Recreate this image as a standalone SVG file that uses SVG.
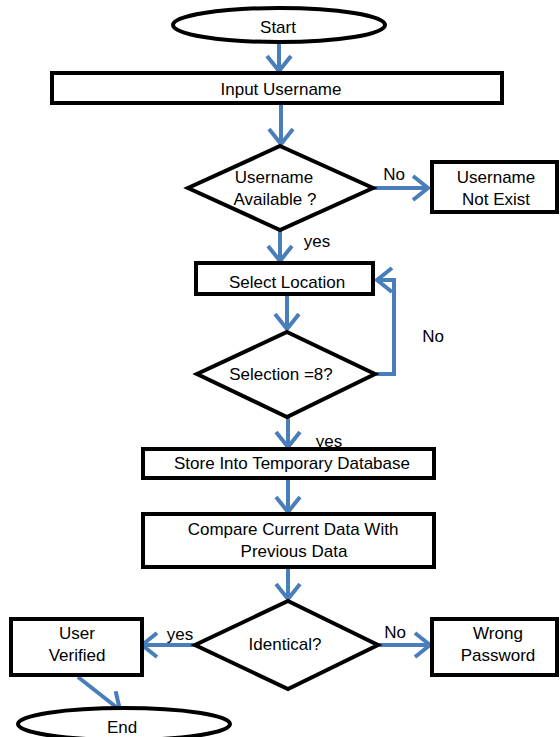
<svg xmlns="http://www.w3.org/2000/svg" width="560" height="737" viewBox="0 0 560 737">
  <style>
    .shape { fill: #ffffff; stroke: #000000; stroke-width: 4; stroke-linejoin: miter; }
    .flow { fill: none; stroke: #4a7ebb; stroke-width: 4; marker-end: url(#chevron); }
    text { font-family: "Liberation Sans", Arial, sans-serif; font-size: 17px; fill: #000000; text-anchor: middle; }
  </style>
  <defs>
    <marker id="chevron" markerUnits="userSpaceOnUse" markerWidth="22" markerHeight="30" viewBox="0 0 22 30" refX="17" refY="15" orient="auto">
      <path d="M2,3 L17,15 L2,27" fill="none" stroke="#4a7ebb" stroke-width="4"/>
    </marker>
  </defs>
  <rect width="560" height="737" fill="#ffffff"/>

  <!-- connectors -->
  <g id="connectors">
    <path class="flow" d="M279,43 L279,71"/>
    <path class="flow" d="M281,104 L281,144"/>
    <path class="flow" d="M373,188 L428,188"/>
    <path class="flow" d="M280,230 L280,261"/>
    <path class="flow" d="M287,295 L287,329"/>
    <path class="flow" d="M376,374 L394,374 L394,280 L377,280"/>
    <path class="flow" d="M288,417 L288,447"/>
    <path class="flow" d="M288,479 L288,512"/>
    <path class="flow" d="M288,568 L288,599"/>
    <path class="flow" d="M195,645 L142,645"/>
    <path class="flow" d="M378,645 L430,645"/>
    <path class="flow" d="M78,677 L120,710"/>
    <text x="394" y="180">No</text>
    <text x="317" y="247">yes</text>
    <text x="433" y="342">No</text>
    <text x="329" y="447">yes</text>
    <text x="180" y="640">yes</text>
    <text x="395" y="638">No</text>
  </g>

  <g id="start">
    <ellipse class="shape" cx="279" cy="25" rx="106" ry="17"/>
    <text x="278" y="33">Start</text>
  </g>

  <g id="input-username">
    <rect class="shape" x="52" y="73" width="450" height="30"/>
    <text x="281" y="95">Input Username</text>
  </g>

  <g id="username-available">
    <polygon class="shape" points="280,146 373,188 280,230 188,188"/>
    <text x="274" y="183">Username</text>
    <text x="275" y="205">Available ?</text>
  </g>

  <g id="username-not-exist">
    <rect class="shape" x="432" y="162" width="125" height="50"/>
    <text x="496" y="183">Username</text>
    <text x="496" y="205">Not Exist</text>
  </g>

  <g id="select-location">
    <rect class="shape" x="196" y="263" width="177" height="31"/>
    <text x="287" y="288">Select Location</text>
  </g>

  <g id="selection-check">
    <polygon class="shape" points="287,332 375,374 287,417 197,374"/>
    <text x="281" y="380">Selection =8?</text>
  </g>

  <g id="store-temp">
    <rect class="shape" x="143" y="449" width="291" height="29"/>
    <text x="292" y="469">Store Into Temporary Database</text>
  </g>

  <g id="compare-data">
    <rect class="shape" x="143" y="514" width="291" height="53"/>
    <text x="293" y="535">Compare Current Data With</text>
    <text x="294" y="557">Previous Data</text>
  </g>

  <g id="identical-check">
    <polygon class="shape" points="288,601 378,645 288,689 195,645"/>
    <text x="285" y="650">Identical?</text>
  </g>

  <g id="user-verified">
    <rect class="shape" x="11" y="619" width="131" height="56"/>
    <text x="77" y="639">User</text>
    <text x="77" y="661">Verified</text>
  </g>

  <g id="wrong-password">
    <rect class="shape" x="432" y="619" width="125" height="56"/>
    <text x="498" y="639">Wrong</text>
    <text x="498" y="661">Password</text>
  </g>

  <g id="end">
    <ellipse class="shape" cx="124" cy="724" rx="106" ry="16"/>
    <text x="122" y="733">End</text>
  </g>
</svg>
